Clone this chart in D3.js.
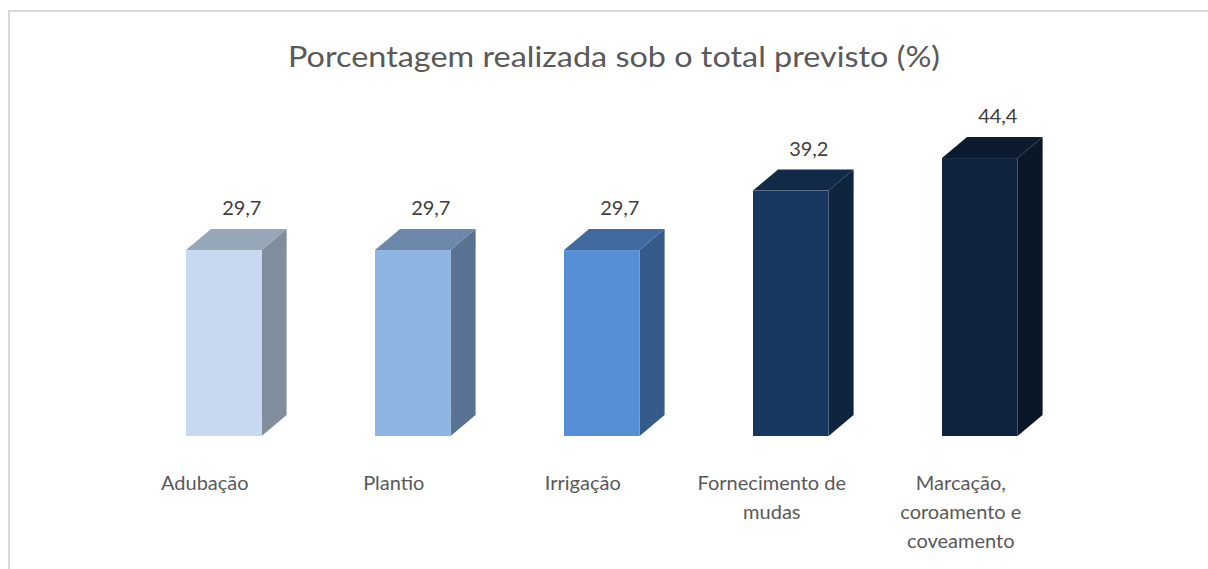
<!DOCTYPE html>
<html>
<head>
<meta charset="utf-8">
<script src="https://cdn.jsdelivr.net/npm/d3@7"></script>
<style>
  html, body { margin: 0; padding: 0; background: #fff; }
  svg { display: block; }
</style>
</head>
<body>
<svg id="chart" width="1208" height="569"></svg>
<script>
const categories = ["Adubação", "Plantio", "Irrigação", "Fornecimento de mudas", "Marcação, coroamento e coveamento"];
const categoryLines = [["Adubação"], ["Plantio"], ["Irrigação"], ["Fornecimento de", "mudas"], ["Marcação,", "coroamento e", "coveamento"]];
const values = [29.7, 29.7, 29.7, 39.2, 44.4];
const valueLabels = ["29,7", "29,7", "29,7", "39,2", "44,4"];
const frontColors = ["#c6d9f1", "#8db4e2", "#558ed5", "#17375e", "#10243f"];
const topColors = ["#97a7ba", "#6b88ab", "#3f6ba1", "#112a48", "#0c1b30"];
const sideColors = ["#7f8d9c", "#5a7393", "#355b8a", "#0f243e", "#0a1729"];
const title = "Porcentagem realizada sob o total previsto (%)";

const svg = d3.select("#chart");
const W = 1208, H = 569;
const font = "Lato, 'Open Sans', sans-serif";

// border
svg.append("path")
  .attr("d", `M9,${H} L9,11 L${W},11`)
  .attr("fill", "none")
  .attr("stroke", "#d9d9d9")
  .attr("stroke-width", 2);

svg.append("text")
  .attr("x", 614).attr("y", 67)
  .attr("text-anchor", "middle")
  .attr("font-family", font)
  .attr("font-size", 28)
  .attr("fill", "#595959")
  .attr("textLength", 652)
  .attr("lengthAdjust", "spacingAndGlyphs")
  .text(title);

const x = d3.scaleBand().domain(categories).range([91.5, 1112.1]).paddingInner(0.6).paddingOuter(0.5);
const y = d3.scaleLinear().domain([0, 50]).range([436, 123]);
const dx = 25, dy = 21;

const g = svg.append("g");
categories.forEach((c, i) => {
  const x0 = x(c), x1 = x0 + x.bandwidth();
  const yt = y(values[i]), yb = y(0);
  // side
  g.append("path")
    .attr("d", `M${x1},${yt} L${x1 + dx},${yt - dy} L${x1 + dx},${yb - dy} L${x1},${yb} Z`)
    .attr("fill", sideColors[i]);
  // top
  g.append("path")
    .attr("d", `M${x0},${yt} L${x0 + dx},${yt - dy} L${x1 + dx},${yt - dy} L${x1},${yt} Z`)
    .attr("fill", topColors[i]);
  // front
  g.append("rect")
    .attr("x", x0).attr("y", yt)
    .attr("width", x.bandwidth()).attr("height", yb - yt)
    .attr("fill", frontColors[i]);
  // value label
  g.append("text")
    .attr("x", (x0 + x1) / 2 + 18)
    .attr("y", yt - dy - 14)
    .attr("text-anchor", "middle")
    .attr("font-family", font)
    .attr("font-size", 20)
    .attr("fill", "#404040")
    .text(valueLabels[i]);
  // category label
  const t = g.append("text")
    .attr("text-anchor", "middle")
    .attr("font-family", font)
    .attr("font-size", 20)
    .attr("fill", "#595959");
  categoryLines[i].forEach((ln, k) => {
    t.append("tspan")
      .attr("x", (x0 + x1) / 2 - 19)
      .attr("y", 490 + k * 29)
      .text(ln);
  });
});
</script>
</body>
</html>
